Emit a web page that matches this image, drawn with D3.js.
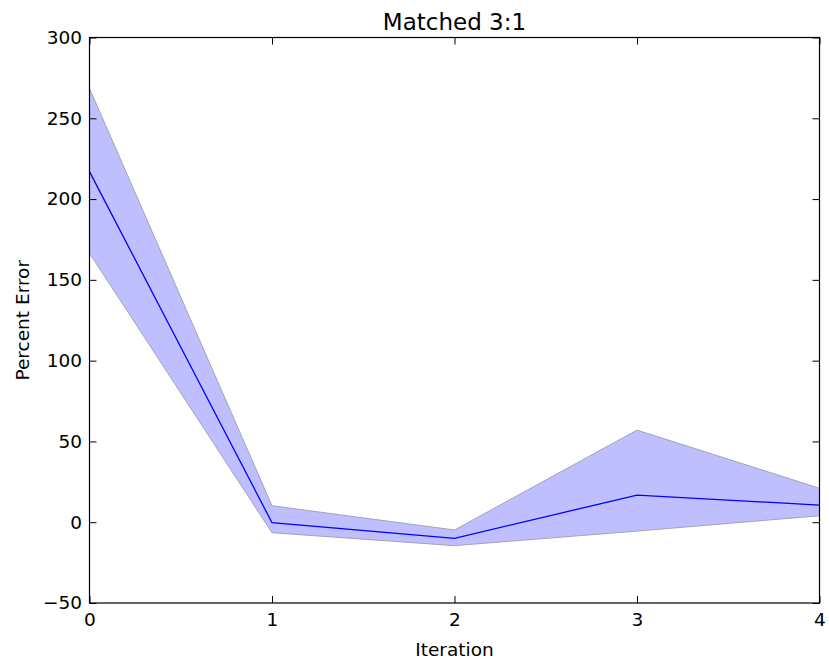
<!DOCTYPE html>
<html>
<head>
<meta charset="utf-8">
<script src="https://cdn.jsdelivr.net/npm/d3@7"></script>
<style>
  body { margin: 0; background: #fff; }
  svg text { font-family: "DejaVu Sans", sans-serif; fill: #000; }
</style>
</head>
<body>
<div id="chart"></div>
<script>
const iterations = [0, 1, 2, 3, 4];
const meanError = [217, -0.3, -10, 16.8, 10.6];
const upperError = [268.5, 10.2, -4.8, 57, 21];
const lowerError = [166.5, -6.5, -14.5, -5.5, 4];
const yTicks = [-50, 0, 50, 100, 150, 200, 250, 300];
const xTicks = [0, 1, 2, 3, 4];

const W = 829, H = 666;
const margin = {top: 37.5, right: 9.5, bottom: 63, left: 89.5};
const width = W - margin.left - margin.right;
const height = H - margin.top - margin.bottom;

const svg = d3.select("#chart")
    .append("svg")
    .attr("width", W)
    .attr("height", H);

const g = svg.append("g")
    .attr("transform", `translate(${margin.left},${margin.top})`);

const x = d3.scaleLinear().domain([0, 4]).range([0, width]);
const y = d3.scaleLinear().domain([-50, 300]).range([height, 0]);

const band = iterations.map((d, i) => ({x: d, lo: lowerError[i], hi: upperError[i], m: meanError[i]}));

// shaded band
g.append("path")
    .datum(band)
    .attr("d", d3.area().x(d => x(d.x)).y0(d => y(d.lo)).y1(d => y(d.hi)))
    .attr("fill", "#bfbfff")
    .attr("stroke", "#a3a3b8")
    .attr("stroke-width", 1);

// mean line
g.append("path")
    .datum(band)
    .attr("d", d3.line().x(d => x(d.x)).y(d => y(d.m)))
    .attr("fill", "none")
    .attr("stroke", "#0000ff")
    .attr("stroke-width", 1.3);

// axes, matplotlib classic style: ticks inward on all sides
const tickLen = 7;
const axisLeft = d3.axisLeft(y).tickValues(yTicks).tickSizeInner(-tickLen).tickSizeOuter(0).tickPadding(7.5)
    .tickFormat(d => d < 0 ? "\u2212" + Math.abs(d) : d);
const axisBottom = d3.axisBottom(x).tickValues(xTicks).tickSizeInner(-tickLen).tickSizeOuter(0).tickPadding(10)
    .tickFormat(d3.format("d"));
const axisRight = d3.axisRight(y).tickValues(yTicks).tickSizeInner(-tickLen).tickSizeOuter(0).tickFormat("");
const axisTop = d3.axisTop(x).tickValues(xTicks).tickSizeInner(-tickLen).tickSizeOuter(0).tickFormat("");

g.append("g").attr("class", "axis").call(axisLeft);
g.append("g").attr("class", "axis").attr("transform", `translate(0,${height})`).call(axisBottom);
g.append("g").attr("class", "axis").attr("transform", `translate(${width},0)`).call(axisRight);
g.append("g").attr("class", "axis").call(axisTop);

g.selectAll(".axis")
    .attr("font-family", "DejaVu Sans")
    .attr("font-size", 18.5);
g.selectAll(".axis .domain").remove();
g.selectAll(".axis line").attr("stroke", "#000");

// frame
g.append("rect")
    .attr("width", width)
    .attr("height", height)
    .attr("fill", "none")
    .attr("stroke", "#000")
    .attr("stroke-width", 1.2);

// labels
svg.append("text")
    .attr("x", margin.left + width / 2)
    .attr("y", 29.5)
    .attr("text-anchor", "middle")
    .style("font-size", "23px")
    .text("Matched 3:1");

svg.append("text")
    .attr("x", margin.left + width / 2)
    .attr("y", 656)
    .attr("text-anchor", "middle")
    .style("font-size", "18.5px")
    .text("Iteration");

svg.append("text")
    .attr("transform", `translate(29,${margin.top + height / 2}) rotate(-90)`)
    .attr("text-anchor", "middle")
    .style("font-size", "18.5px")
    .text("Percent Error");
</script>
</body>
</html>
